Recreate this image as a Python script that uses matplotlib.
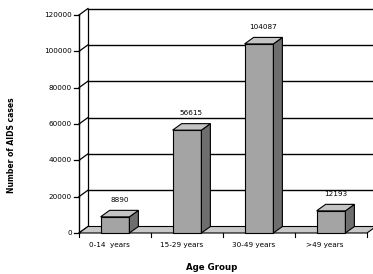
import matplotlib.pyplot as plt
from matplotlib.patches import Polygon

plt.rcParams['font.family'] = ['DejaVu Sans']

# data
groups = ['0-14  years', '15-29 years', '30-49 years', '>49 years']
cases = [8890, 56615, 104087, 12193]
yticks = [0, 20000, 40000, 60000, 80000, 100000, 120000]

W, H = 373, 274
fig = plt.figure(figsize=(W / 100, H / 100), dpi=100)

# axes mapped so that front axis sits at x=79px, y=0 at 233px, 120000 at 15px
px_x = 72.0                  # pixels per category
x0, y0, y1 = 79, 233, 15
xmax = (W - x0) / px_x
ax = fig.add_axes([x0 / W, (H - y0) / H, (W - x0) / W, (y0 - y1) / H])
ax.set_xlim(0, xmax)
ax.set_ylim(0, 120000)
ax.axis('off')

dx = 9 / px_x                       # depth offset in x
dy = 6.5 * 120000 / (y0 - y1)       # depth offset in y
n = len(cases)

# floor
floor = Polygon([(0, 0), (n, 0), (n + dx, dy), (dx, dy)], closed=True,
                facecolor='#c8c8c8', edgecolor='black', lw=0.8, clip_on=False, zorder=1)
ax.add_patch(floor)

# back wall gridlines + connectors
for v in yticks:
    if v > 0:
        ax.plot([dx, xmax + 0.2], [v + dy, v + dy], color='black', lw=1.0, clip_on=False, zorder=0.5)
    ax.plot([0, dx], [v, v + dy], color='black', lw=0.9, clip_on=False, zorder=0.5)
    ax.plot([-0.07, 0], [v, v], color='black', lw=0.9, clip_on=False)
    ax.text(-0.1, v, str(v), ha='right', va='center', fontsize=5.2)

# front axis and back wall left edge
ax.plot([0, 0], [0, 120000], color='black', lw=1.0, clip_on=False, zorder=3)
ax.plot([dx, dx], [dy, 120000 + dy], color='black', lw=0.9, clip_on=False, zorder=0.5)

# x ticks
for i in range(n + 1):
    ax.plot([i, i], [0, -2200], color='black', lw=0.8, clip_on=False)

# bars
w = 0.4
for i, (g, v) in enumerate(zip(groups, cases)):
    c = i + 0.5
    l, r = c - w / 2, c + w / 2
    front = Polygon([(l, 0), (r, 0), (r, v), (l, v)], closed=True,
                    facecolor='#a4a4a4', edgecolor='black', lw=0.8, zorder=4)
    side = Polygon([(r, 0), (r + dx, dy), (r + dx, v + dy), (r, v)], closed=True,
                   facecolor='#6e6e6e', edgecolor='black', lw=0.8, zorder=4)
    top = Polygon([(l, v), (r, v), (r + dx, v + dy), (l + dx, v + dy)], closed=True,
                  facecolor='#c4c4c4', edgecolor='black', lw=0.8, zorder=4)
    for p in (front, side, top):
        p.set_clip_on(False)
        ax.add_patch(p)
    ax.text(c + dx / 2, v + 9500, str(v), ha='center', va='center', fontsize=5.2)
    ax.text(c - 0.08, -6500, g, ha='center', va='center', fontsize=5.2)

fig.text(12 / W, 1 - 145 / H, 'Number of AIDS cases', rotation=90, ha='center', va='center',
         fontsize=5.5, fontweight='bold')
fig.text(212 / W, 1 - 267 / H, 'Age Group', ha='center', va='center',
         fontsize=6.2, fontweight='bold')

fig.savefig('out.png', dpi=100)
